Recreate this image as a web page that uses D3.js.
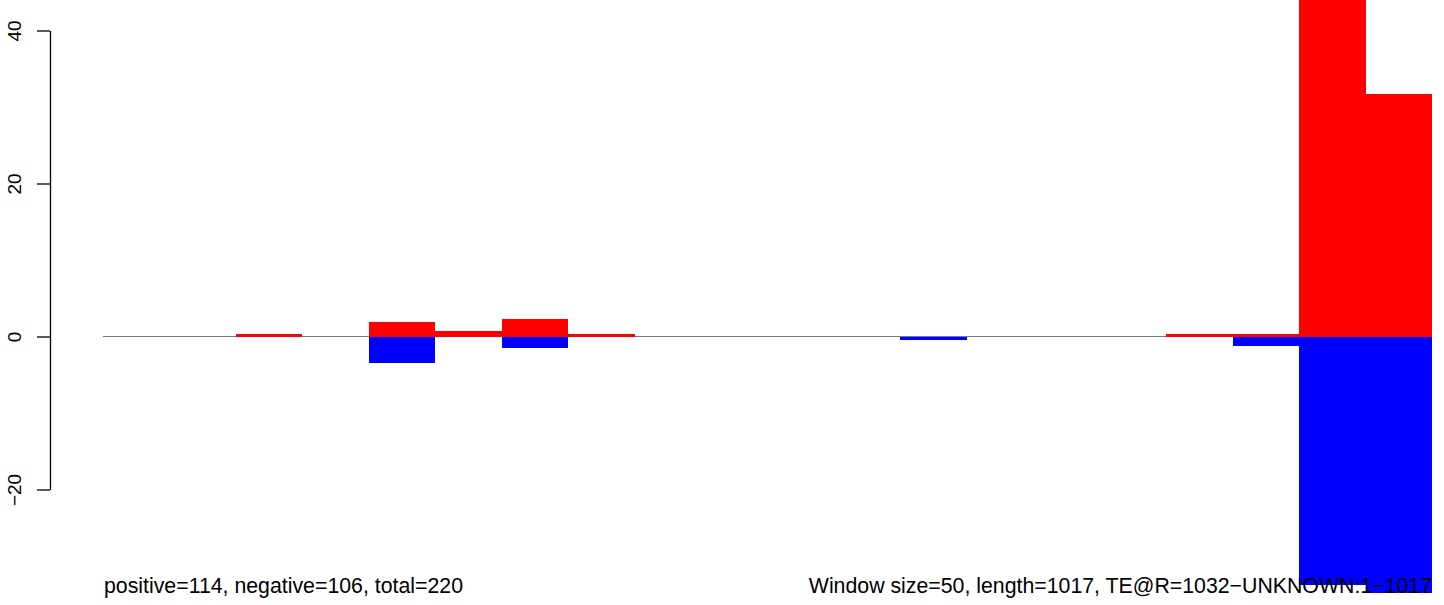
<!DOCTYPE html>
<html>
<head>
<meta charset="utf-8">
<script src="https://cdn.jsdelivr.net/npm/d3@7"></script>
<style>
  html, body { margin: 0; padding: 0; background: #fff; }
  svg { display: block; }
  text { font-family: "Liberation Sans", Arial, Helvetica, sans-serif; }
</style>
</head>
<body>
<svg id="chart" width="1444" height="605"></svg>
<script>
// ---- data ----
const windowSize = 50;
const windowStarts = [0, 50, 100, 150, 200, 250, 300, 350, 400, 450, 500, 550, 600, 650, 700, 750, 800, 850, 900, 950];
const positiveValues = [0, 0, 0.35, 0, 1.9, 0.72, 2.29, 0.35, 0, 0, 0, 0, 0, 0, 0, 0, 0.35, 0.35, 48, 31.7];
const negativeValues = [0, 0, 0, 0, 3.42, 0, 1.5, 0, 0, 0, 0, 0, 0.42, 0, 0, 0, 0, 1.2, 32.5, 34];
const yTicks = [-20, 0, 20, 40];
const leftNote = "positive=114, negative=106, total=220";
const rightNote = "Window size=50, length=1017, TE@R=1032\u2212UNKNOWN:1\u22121017";

// ---- layout ----
const svg = d3.select("#chart");
const plotLeft = 103, plotRight = 1432, plotTop = 0, plotBottom = 593;

const x = d3.scaleLinear().domain([0, 1000]).range([plotLeft, plotRight]);
const y = d3.scaleLinear().domain([0, 40]).range([336.5, 30.5]);

svg.append("defs").append("clipPath").attr("id", "plotclip")
  .append("rect").attr("x", plotLeft).attr("y", plotTop)
  .attr("width", plotRight - plotLeft).attr("height", plotBottom - plotTop);

// zero line
svg.append("line")
  .attr("x1", plotLeft).attr("x2", plotRight)
  .attr("y1", y(0)).attr("y2", y(0))
  .attr("stroke", "#7a7a7a").attr("stroke-width", 1);

const g = svg.append("g").attr("clip-path", "url(#plotclip)").attr("shape-rendering", "crispEdges");

const data = windowStarts.map((s, i) => ({ s, pos: positiveValues[i], neg: negativeValues[i] }));

g.selectAll("rect.pos").data(data.filter(d => d.pos > 0)).join("rect")
  .attr("class", "pos")
  .attr("x", d => x(d.s)).attr("width", d => x(d.s + windowSize) - x(d.s))
  .attr("y", d => y(d.pos)).attr("height", d => y(0) - y(d.pos))
  .attr("fill", "#ff0000");

g.selectAll("rect.neg").data(data.filter(d => d.neg > 0)).join("rect")
  .attr("class", "neg")
  .attr("x", d => x(d.s)).attr("width", d => x(d.s + windowSize) - x(d.s))
  .attr("y", y(0)).attr("height", d => y(-d.neg) - y(0))
  .attr("fill", "#0000ff");

// y axis
const yAxisScale = y.copy().domain([-20, 40]).range([y(-20), y(40)]);
const axis = svg.append("g").attr("transform", "translate(50,0)")
  .call(d3.axisLeft(yAxisScale).tickValues(yTicks).tickSizeInner(13).tickSizeOuter(0).tickPadding(0).tickFormat(d => d < 0 ? "\u2212" + Math.abs(d) : String(d)));
axis.select(".domain").attr("stroke", "#000").attr("stroke-width", 1.3);
axis.selectAll(".tick line").attr("stroke", "#000").attr("stroke-width", 1.3);
axis.selectAll(".tick text")
  .attr("x", 0).attr("dy", null)
  .attr("transform", "translate(-36,0) rotate(-90)")
  .attr("text-anchor", "middle")
  .attr("dominant-baseline", "central")
  .attr("font-size", 19).attr("fill", "#000");

// notes
svg.append("text").attr("x", 104).attr("y", 593)
  .attr("font-size", 21.3).attr("fill", "#000").text(leftNote);
svg.append("text").attr("x", 1432).attr("y", 593).attr("text-anchor", "end")
  .attr("font-size", 21.3).attr("fill", "#000").text(rightNote);
</script>
</body>
</html>
